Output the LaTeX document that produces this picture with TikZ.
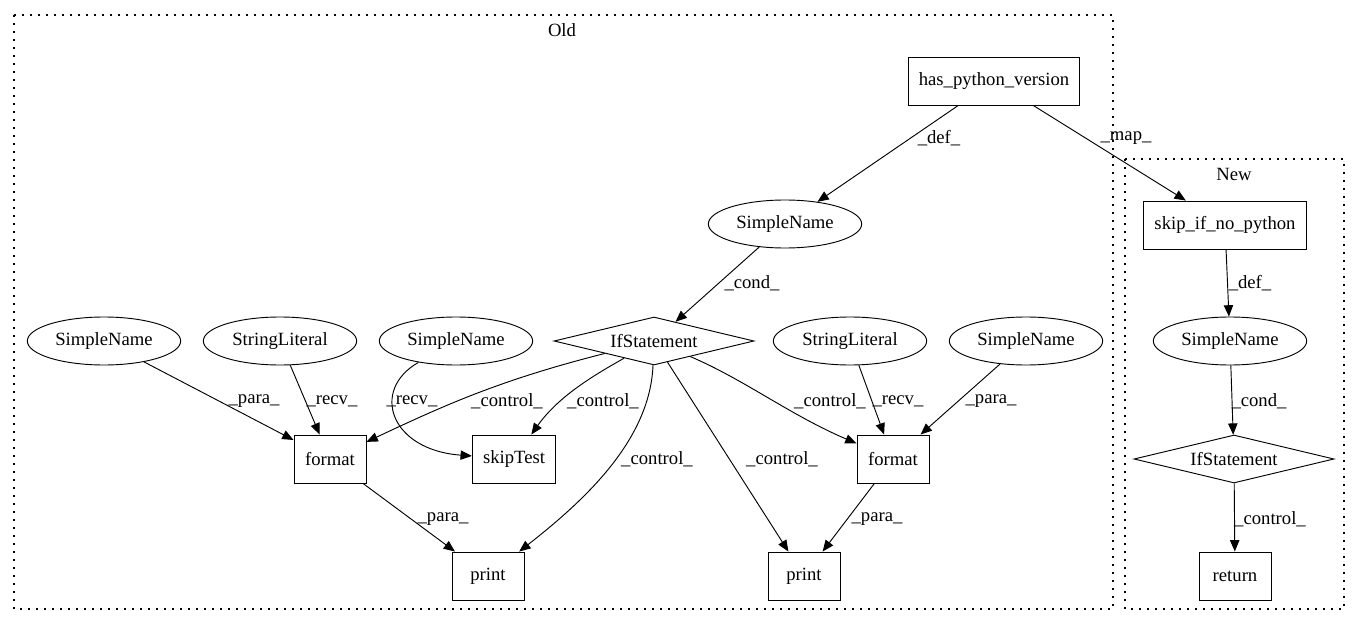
\documentclass[tikz,border=0pt]{standalone}
\usepackage{fontspec}
\setmainfont{Liberation Serif}
\usetikzlibrary{shapes.geometric,arrows.meta}

\tikzset{
  box/.style={draw, line width=0.7pt, minimum width=54pt, minimum height=36pt, inner xsep=8pt, font=\fontsize{14}{16}\selectfont},
  oval/.style={ellipse, draw, line width=0.7pt, minimum width=115pt, minimum height=36pt, inner sep=0pt, font=\fontsize{14}{16}\selectfont},
  cond/.style={diamond, draw, line width=0.7pt, aspect=4.2, minimum width=150pt, minimum height=36pt, inner sep=0pt, font=\fontsize{14}{16}\selectfont},
  lbl/.style={inner sep=0.75pt, font=\fontsize{14}{16}\selectfont},
  edge/.style={-{Triangle[length=8.5pt,width=7pt]}, line width=0.7pt},
  cluster/.style={line width=0.8pt, dash pattern=on 1.2pt off 4.8pt}
}

\begin{document}
\begin{tikzpicture}[x=0.75pt,y=0.75pt,yscale=-1,xscale=1]
        \useasboundingbox (0,0) rectangle (1360,624);

        %Shape: Rectangle [cluster Old]
        \draw [cluster] (14,15) rectangle (1113,609) ;
        %Shape: Rectangle [cluster New]
        \draw [cluster] (1125,159) rectangle (1344,609) ;

        % Text Node
        \node [lbl] (old) at (562,30) {Old};
        \node [lbl] (new) at (1234,174) {New};

        %Shape: nodes of Old
        \node [box] (hpv) at (994,81) {has\_python\_version};
        \node [oval] (sn0) at (785,224) {SimpleName};
        \node [cond] (if0) at (654,341) {IfStatement};
        \node [oval] (sn1) at (104,341) {SimpleName};
        \node [oval] (sl1) at (280,341) {StringLiteral};
        \node [oval] (sn2) at (456,341) {SimpleName};
        \node [oval] (sl2) at (850,341) {StringLiteral};
        \node [oval] (sn3) at (1026,341) {SimpleName};
        \node [box] (fmt1) at (330,459) {format};
        \node [box] (skt) at (514,459) {skipTest};
        \node [box] (fmt2) at (893,459) {format};
        \node [box] (pr1) at (488,576) {print};
        \node [box] (pr2) at (804,576) {print};

        %Shape: nodes of New
        \node [box] (skip) at (1225,225) {skip\_if\_no\_python};
        \node [oval] (snN) at (1230,341) {SimpleName};
        \node [cond] (ifN) at (1234,459) {IfStatement};
        \node [box] (ret) at (1235,576) {return};

        %Straight Lines
        \draw [edge] (hpv) -- (sn0) ;
        \draw [edge] (hpv) -- (skip) ;
        \draw [edge] (sn0) -- (if0) ;
        \draw [edge] (sn1) -- (fmt1) ;
        \draw [edge] (sl1) -- (fmt1) ;
        \draw [edge] (fmt1) -- (pr1) ;
        \draw [edge] (if0) -- (pr2) ;
        \draw [edge] (sl2) -- (fmt2) ;
        \draw [edge] (sn3) -- (fmt2) ;
        \draw [edge] (fmt2) -- (pr2) ;
        \draw [edge] (skip) -- (snN) ;
        \draw [edge] (snN) -- (ifN) ;
        \draw [edge] (ifN) -- (ret) ;

        %Curve Lines
        \draw [edge] (sn2) .. controls (370,390) and (390,450) .. (skt) ;
        \draw [edge] (if0) .. controls (500,380) and (445,405) .. (fmt1) ;
        \draw [edge] (if0) .. controls (600,372) and (560,394) .. (skt) ;
        \draw [edge] (if0) .. controls (650,440) and (585,500) .. (pr1) ;
        \draw [edge] (if0) .. controls (745,380) and (790,415) .. (fmt2) ;

        % Text Node
        \node [lbl] (l1) at (939,138) {\_def\_};
        \node [lbl] (l2) at (1126,138) {\_map\_};
        \node [lbl] (l3) at (752,283) {\_cond\_};
        \node [lbl] (l4) at (1250,283) {\_def\_};
        \node [lbl] (l5) at (254,401) {\_para\_};
        \node [lbl] (l6) at (332,401) {\_recv\_};
        \node [lbl] (l7) at (412,401) {\_recv\_};
        \node [lbl] (l8) at (507,401) {\_control\_};
        \node [lbl] (l9) at (603,401) {\_control\_};
        \node [lbl] (l10) at (657,459) {\_control\_};
        \node [lbl] (l11) at (443,519) {\_para\_};
        \node [lbl] (l12) at (782,459) {\_control\_};
        \node [lbl] (l13) at (830,401) {\_control\_};
        \node [lbl] (l14) at (898,401) {\_recv\_};
        \node [lbl] (l15) at (991,401) {\_para\_};
        \node [lbl] (l16) at (877,519) {\_para\_};
        \node [lbl] (l17) at (1259,401) {\_cond\_};
        \node [lbl] (l18) at (1270,519) {\_control\_};

\end{tikzpicture}
\end{document}
